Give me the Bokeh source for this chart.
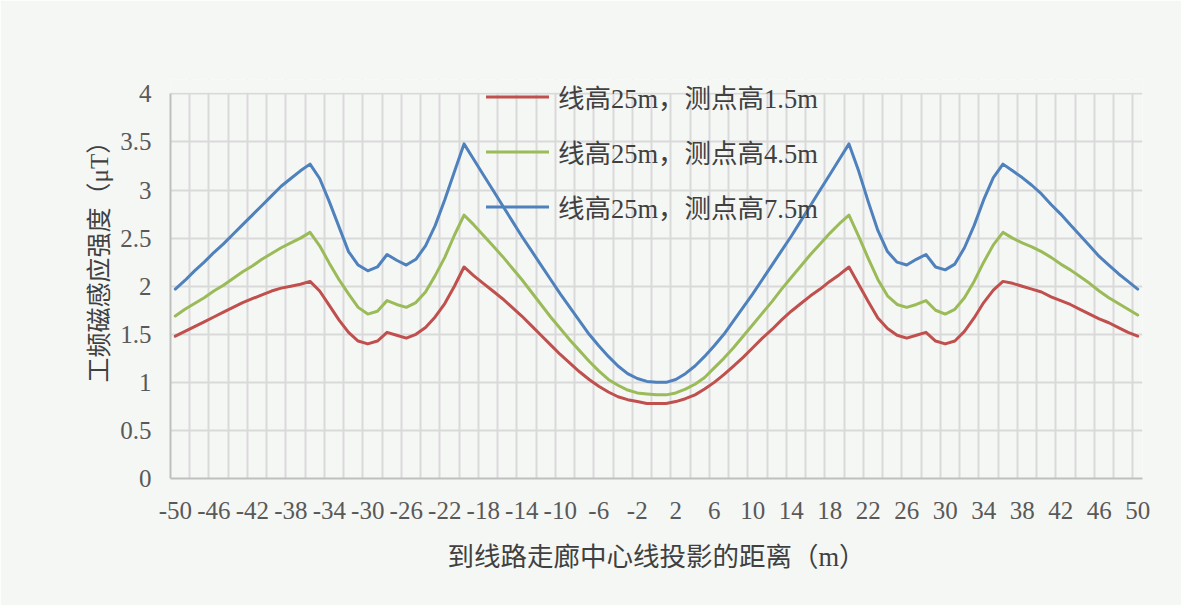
from bokeh.plotting import figure
from bokeh.models import FixedTicker, Range1d, Legend, LegendItem, BoxAnnotation, Title
from bokeh.embed import file_html
from bokeh.resources import INLINE

# ---------------- data ----------------
x_vals = list(range(-50, 51))

s_15 = [1.48, 1.53, 1.58, 1.63, 1.68, 1.73, 1.78, 1.83, 1.87, 1.91,
        1.95, 1.98, 2.00, 2.02, 2.05, 1.95, 1.80, 1.65, 1.52, 1.43,
        1.40, 1.43, 1.52, 1.49, 1.46, 1.50, 1.57, 1.68, 1.82, 2.00,
        2.20, 2.11, 2.03, 1.95, 1.87, 1.78, 1.69, 1.59, 1.49, 1.39,
        1.29, 1.20, 1.11, 1.03, 0.96, 0.90, 0.85, 0.82, 0.80, 0.78,
        0.78,
        0.78, 0.80, 0.83, 0.87, 0.93, 1.00, 1.08, 1.17, 1.26, 1.36,
        1.46, 1.55, 1.65, 1.74, 1.82, 1.90, 1.97, 2.05, 2.12, 2.20,
        2.02, 1.84, 1.67, 1.56, 1.49, 1.46, 1.49, 1.52, 1.43, 1.40,
        1.43, 1.53, 1.67, 1.83, 1.96, 2.05, 2.03, 2.00, 1.97, 1.94,
        1.89, 1.85, 1.81, 1.76, 1.71, 1.66, 1.62, 1.57, 1.52, 1.48]

s_45 = [1.69, 1.76, 1.82, 1.88, 1.95, 2.01, 2.08, 2.15, 2.21, 2.28,
        2.34, 2.40, 2.45, 2.50, 2.56, 2.42, 2.24, 2.07, 1.92, 1.78,
        1.71, 1.74, 1.85, 1.81, 1.78, 1.83, 1.94, 2.11, 2.30, 2.53,
        2.74, 2.64, 2.53, 2.42, 2.31, 2.19, 2.07, 1.94, 1.81, 1.68,
        1.56, 1.44, 1.33, 1.22, 1.12, 1.03, 0.97, 0.92, 0.89, 0.88,
        0.87,
        0.87, 0.89, 0.93, 0.98, 1.05, 1.15, 1.25, 1.36, 1.48, 1.60,
        1.72, 1.84, 1.97, 2.09, 2.21, 2.33, 2.44, 2.55, 2.65, 2.74,
        2.52, 2.29, 2.07, 1.90, 1.81, 1.78, 1.81, 1.85, 1.75, 1.71,
        1.76, 1.88, 2.05, 2.25, 2.43, 2.56, 2.50, 2.45, 2.41, 2.36,
        2.30, 2.23, 2.17, 2.10, 2.03, 1.95, 1.88, 1.82, 1.76, 1.70]

s_75 = [1.97, 2.06, 2.16, 2.25, 2.35, 2.44, 2.54, 2.64, 2.74, 2.84,
        2.94, 3.04, 3.12, 3.20, 3.27, 3.12, 2.88, 2.62, 2.36, 2.22,
        2.16, 2.20, 2.33, 2.27, 2.22, 2.28, 2.42, 2.63, 2.90, 3.19,
        3.48, 3.32, 3.16, 3.00, 2.84, 2.68, 2.52, 2.37, 2.22, 2.07,
        1.92, 1.78, 1.64, 1.50, 1.38, 1.27, 1.17, 1.09, 1.04, 1.01,
        1.00,
        1.00, 1.03, 1.09, 1.17, 1.27, 1.38, 1.50, 1.64, 1.78, 1.92,
        2.07, 2.22, 2.37, 2.52, 2.68, 2.84, 3.00, 3.16, 3.32, 3.48,
        3.20, 2.88, 2.58, 2.36, 2.25, 2.22, 2.28, 2.33, 2.20, 2.17,
        2.23, 2.40, 2.63, 2.90, 3.13, 3.27, 3.20, 3.13, 3.05, 2.96,
        2.85, 2.75, 2.64, 2.53, 2.42, 2.31, 2.22, 2.13, 2.05, 1.97]

series_names = ["线高25m，测点高1.5m", "线高25m，测点高4.5m", "线高25m，测点高7.5m"]
series_colors = ["#C0504D", "#9BBB59", "#4F81BD"]

x_tick_values = list(range(-50, 51, 4))
x_tick_labels = [str(v) for v in x_tick_values]
y_tick_values = [0, 0.5, 1, 1.5, 2, 2.5, 3, 3.5, 4]
y_tick_labels = ["0", "0.5", "1", "1.5", "2", "2.5", "3", "3.5", "4"]
x_grid_values = [v - 0.5 for v in range(-50, 51, 2)]

x_title = "到线路走廊中心线投影的距离（m）"
y_title = "工频磁感应强度（μT）"

# ---------------- style ----------------
BG = "#F5F7F5"
FONT = "'Liberation Serif', 'Noto Sans CJK SC'"
TICK_COLOR = "#595959"
TEXT_COLOR = "#404040"

p = figure(width=1181, height=605, output_backend="svg", toolbar_location=None,
           x_range=Range1d(-50.5, 50.5), y_range=Range1d(0, 4.15),
           min_border_left=170, min_border_right=39,
           min_border_top=79, min_border_bottom=127)
p.background_fill_color = BG
p.border_fill_color = BG
p.outline_line_color = None

# grids
p.xgrid.ticker = FixedTicker(ticks=x_grid_values)
p.ygrid.ticker = FixedTicker(ticks=y_tick_values)
for g in (p.xgrid[0], p.ygrid[0]):
    g.grid_line_color = "#D9D9D9"
    g.grid_line_width = 2

# axes
xa = p.xaxis[0]
xa.ticker = FixedTicker(ticks=x_tick_values)
xa.major_label_overrides = {v: s for v, s in zip(x_tick_values, x_tick_labels)}
ya = p.yaxis[0]
ya.ticker = FixedTicker(ticks=y_tick_values)
ya.major_label_overrides = {v: s for v, s in zip(y_tick_values, y_tick_labels)}
ya.bounds = (0, 4)
for ax in (xa, ya):
    ax.axis_line_color = "#BFBFBF"
    ax.axis_line_width = 2
    ax.major_tick_line_color = None
    ax.minor_tick_line_color = None
    ax.major_tick_out = 0
    ax.major_tick_in = 0
    ax.major_label_text_font = FONT
    ax.major_label_text_font_size = "25px"
    ax.major_label_text_color = TICK_COLOR
xa.major_label_standoff = 23
ya.major_label_standoff = 19
xa.axis_label = x_title
xa.axis_label_text_font = FONT
xa.axis_label_text_font_size = "26.5px"
xa.axis_label_text_font_style = "normal"
xa.axis_label_text_color = TEXT_COLOR
xa.axis_label_standoff = 20

# y title on the left, placed lower-aligned like the reference
p.add_layout(Title(text=y_title, align="left", offset=96,
                   text_font=FONT, text_font_size="25px",
                   text_font_style="normal", text_color=TEXT_COLOR,
                   standoff=10), "left")

# hide the strip of the frame above y=4 (room for the legend)
p.add_layout(BoxAnnotation(bottom=4.012, fill_color=BG, fill_alpha=1.0,
                           line_color=None))

# lines
renderers = []
for ys, col in zip([s_15, s_45, s_75], series_colors):
    r = p.line(x_vals, ys, line_color=col, line_width=3,
               line_join="round", line_cap="round")
    renderers.append(r)

legend = Legend(items=[LegendItem(label=n, renderers=[r])
                       for n, r in zip(series_names, renderers)],
                location=(316, 244))
legend.glyph_width = 63
legend.glyph_height = 55
legend.label_height = 55
legend.spacing = 0
legend.padding = 0
legend.margin = 0
legend.label_standoff = 9
legend.border_line_color = None
legend.background_fill_alpha = 0
legend.label_text_font = FONT
legend.label_text_font_size = "26.5px"
legend.label_text_color = TEXT_COLOR
p.add_layout(legend, "center")

open("out.html", "w").write(file_html(p, INLINE))
